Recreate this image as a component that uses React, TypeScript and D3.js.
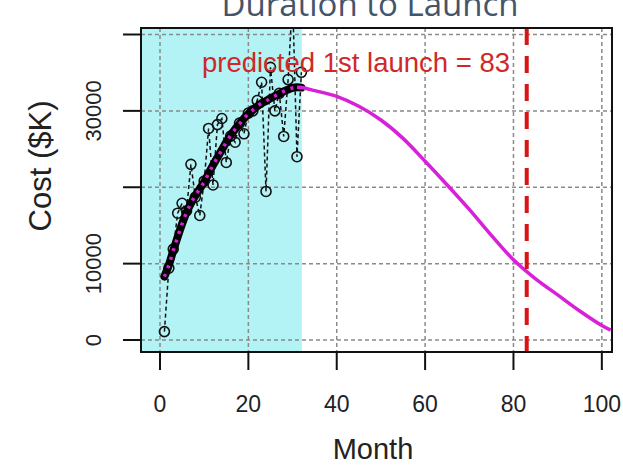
import React from "react";
import * as d3 from "d3";

const fitMonths = [1,2,3,4,5,6,7,8,9,10,11,12,13,14,15,16,17,18,19,20,21,22,23,24,25,26,27,28,29,30,31,32,35,40,45,50,55,60,65,70,75,80,85,90,95,100,102];
const fitCost = [8300,9800,11700,13500,15200,16700,17900,18900,19800,20700,21800,22900,23900,24900,25900,26800,27600,28300,29000,29600,30100,30600,31000,31300,31650,31950,32250,32550,32800,33000,33100,33050,32650,31900,30600,28800,26400,23400,20300,17100,13700,10500,8000,5900,3800,1900,1300];

const obsMonths = [1,2,3,4,5,6,7,8,9,10,11,12,13,14,15,16,17,18,19,20,21,22,23,24,25,26,27,28,29,30,31,32];
const obsCost = [1100,9400,11900,16600,17900,16900,23000,18700,16300,20800,27700,20300,28200,29000,23250,26700,25900,28400,27000,29700,30000,31350,33750,19450,35700,30000,32300,26650,34100,45000,24000,35050];

const xTicks = [0, 20, 40, 60, 80, 100];
const yTicks = [0, 10000, 20000, 30000, 40000];
const yTickLabels = ["0", "10000", "", "30000", ""];
const observedEnd = 32.1;
const launchMonth = 83;

const W = 623, H = 465;
const L = 141, R = 612, T = 28, B = 352;

export default function App() {
  const x = d3.scaleLinear().domain([-4.3, 102.3]).range([L, R]);
  const y = d3.scaleLinear().domain([-1571, 40851]).range([B, T]);

  const fitPts = fitMonths.map((m, i) => [m, fitCost[i]] as [number, number]);
  const fitLine = d3.line<[number, number]>().x(d => x(d[0])).y(d => y(d[1])).curve(d3.curveCatmullRom.alpha(0.5));
  const inObs = fitPts.filter(d => d[0] <= 32);
  const afterObs = fitPts.filter(d => d[0] >= 31);
  const obsPts = obsMonths.map((m, i) => [m, obsCost[i]] as [number, number]);
  const obsLine = d3.line<[number, number]>().x(d => x(d[0])).y(d => y(d[1]));

  const font = "'Liberation Sans', Arial, sans-serif";

  return (
    <svg width={W} height={H} style={{ position: "absolute", left: 0, top: 0, background: "#fff" }}>
      <defs>
        <clipPath id="plotclip">
          <rect x={L} y={T} width={R - L} height={B - T} />
        </clipPath>
      </defs>
      <text x={370} y={16} textAnchor="middle" fontFamily="'Open Sans', 'Noto Sans', sans-serif" fontSize={33} fill="#44546a">Duration to Launch</text>

      <rect x={L} y={T} width={x(observedEnd) - L} height={B - T} fill="#b3f3f6" />

      {xTicks.map(t => (
        <line key={"gx" + t} x1={x(t)} x2={x(t)} y1={T} y2={B} stroke="#8a8a8a" strokeWidth={1.5} strokeDasharray="4,3" />
      ))}
      {yTicks.map(t => (
        <line key={"gy" + t} x1={L} x2={R} y1={y(t)} y2={y(t)} stroke="#8a8a8a" strokeWidth={1.5} strokeDasharray="4,3" />
      ))}

      <g clipPath="url(#plotclip)">
        <path d={obsLine(obsPts) || ""} fill="none" stroke="#111" strokeWidth={1.5} strokeDasharray="4,3" />
        {obsPts.map((d, i) => (
          <circle key={"c" + i} cx={x(d[0])} cy={y(d[1])} r={5} fill="none" stroke="#111" strokeWidth={1.6} />
        ))}
        <path d={fitLine(inObs) || ""} fill="none" stroke="#000" strokeWidth={8} strokeLinecap="round" />
        <path d={fitLine(inObs) || ""} fill="none" stroke="#d61fd6" strokeWidth={3.5} strokeDasharray="3,6" />
        <path d={fitLine(afterObs) || ""} fill="none" stroke="#d920d9" strokeWidth={3.5} />
        <line x1={x(launchMonth)} x2={x(launchMonth)} y1={T} y2={B} stroke="#d81414" strokeWidth={4} strokeDasharray="17,11" />
      </g>

      <text x={356} y={72} textAnchor="middle" fontFamily={font} fontSize={27.5} fill="#d02828">predicted 1st launch = {launchMonth}</text>

      <rect x={L} y={T} width={R - L} height={B - T} fill="none" stroke="#111" strokeWidth={2} />

      {xTicks.map(t => (
        <g key={"xt" + t}>
          <line x1={x(t)} x2={x(t)} y1={B} y2={B + 18} stroke="#111" strokeWidth={2} />
          <text x={x(t)} y={412} textAnchor="middle" fontFamily={font} fontSize={23} fill="#222">{t}</text>
        </g>
      ))}
      {yTicks.map((t, i) => (
        <g key={"yt" + t}>
          <line x1={L - 18} x2={L} y1={y(t)} y2={y(t)} stroke="#111" strokeWidth={2} />
          {yTickLabels[i] && (
            <text transform={`translate(101,${y(t)}) rotate(-90)`} textAnchor="middle" fontFamily={font} fontSize={22} fill="#222">{yTickLabels[i]}</text>
          )}
        </g>
      ))}

      <text x={373} y={459} textAnchor="middle" fontFamily={font} fontSize={29} fill="#222">Month</text>
      <text transform="translate(51,166) rotate(-90)" textAnchor="middle" fontFamily={font} fontSize={31} fill="#222">Cost ($K)</text>
    </svg>
  );
}
